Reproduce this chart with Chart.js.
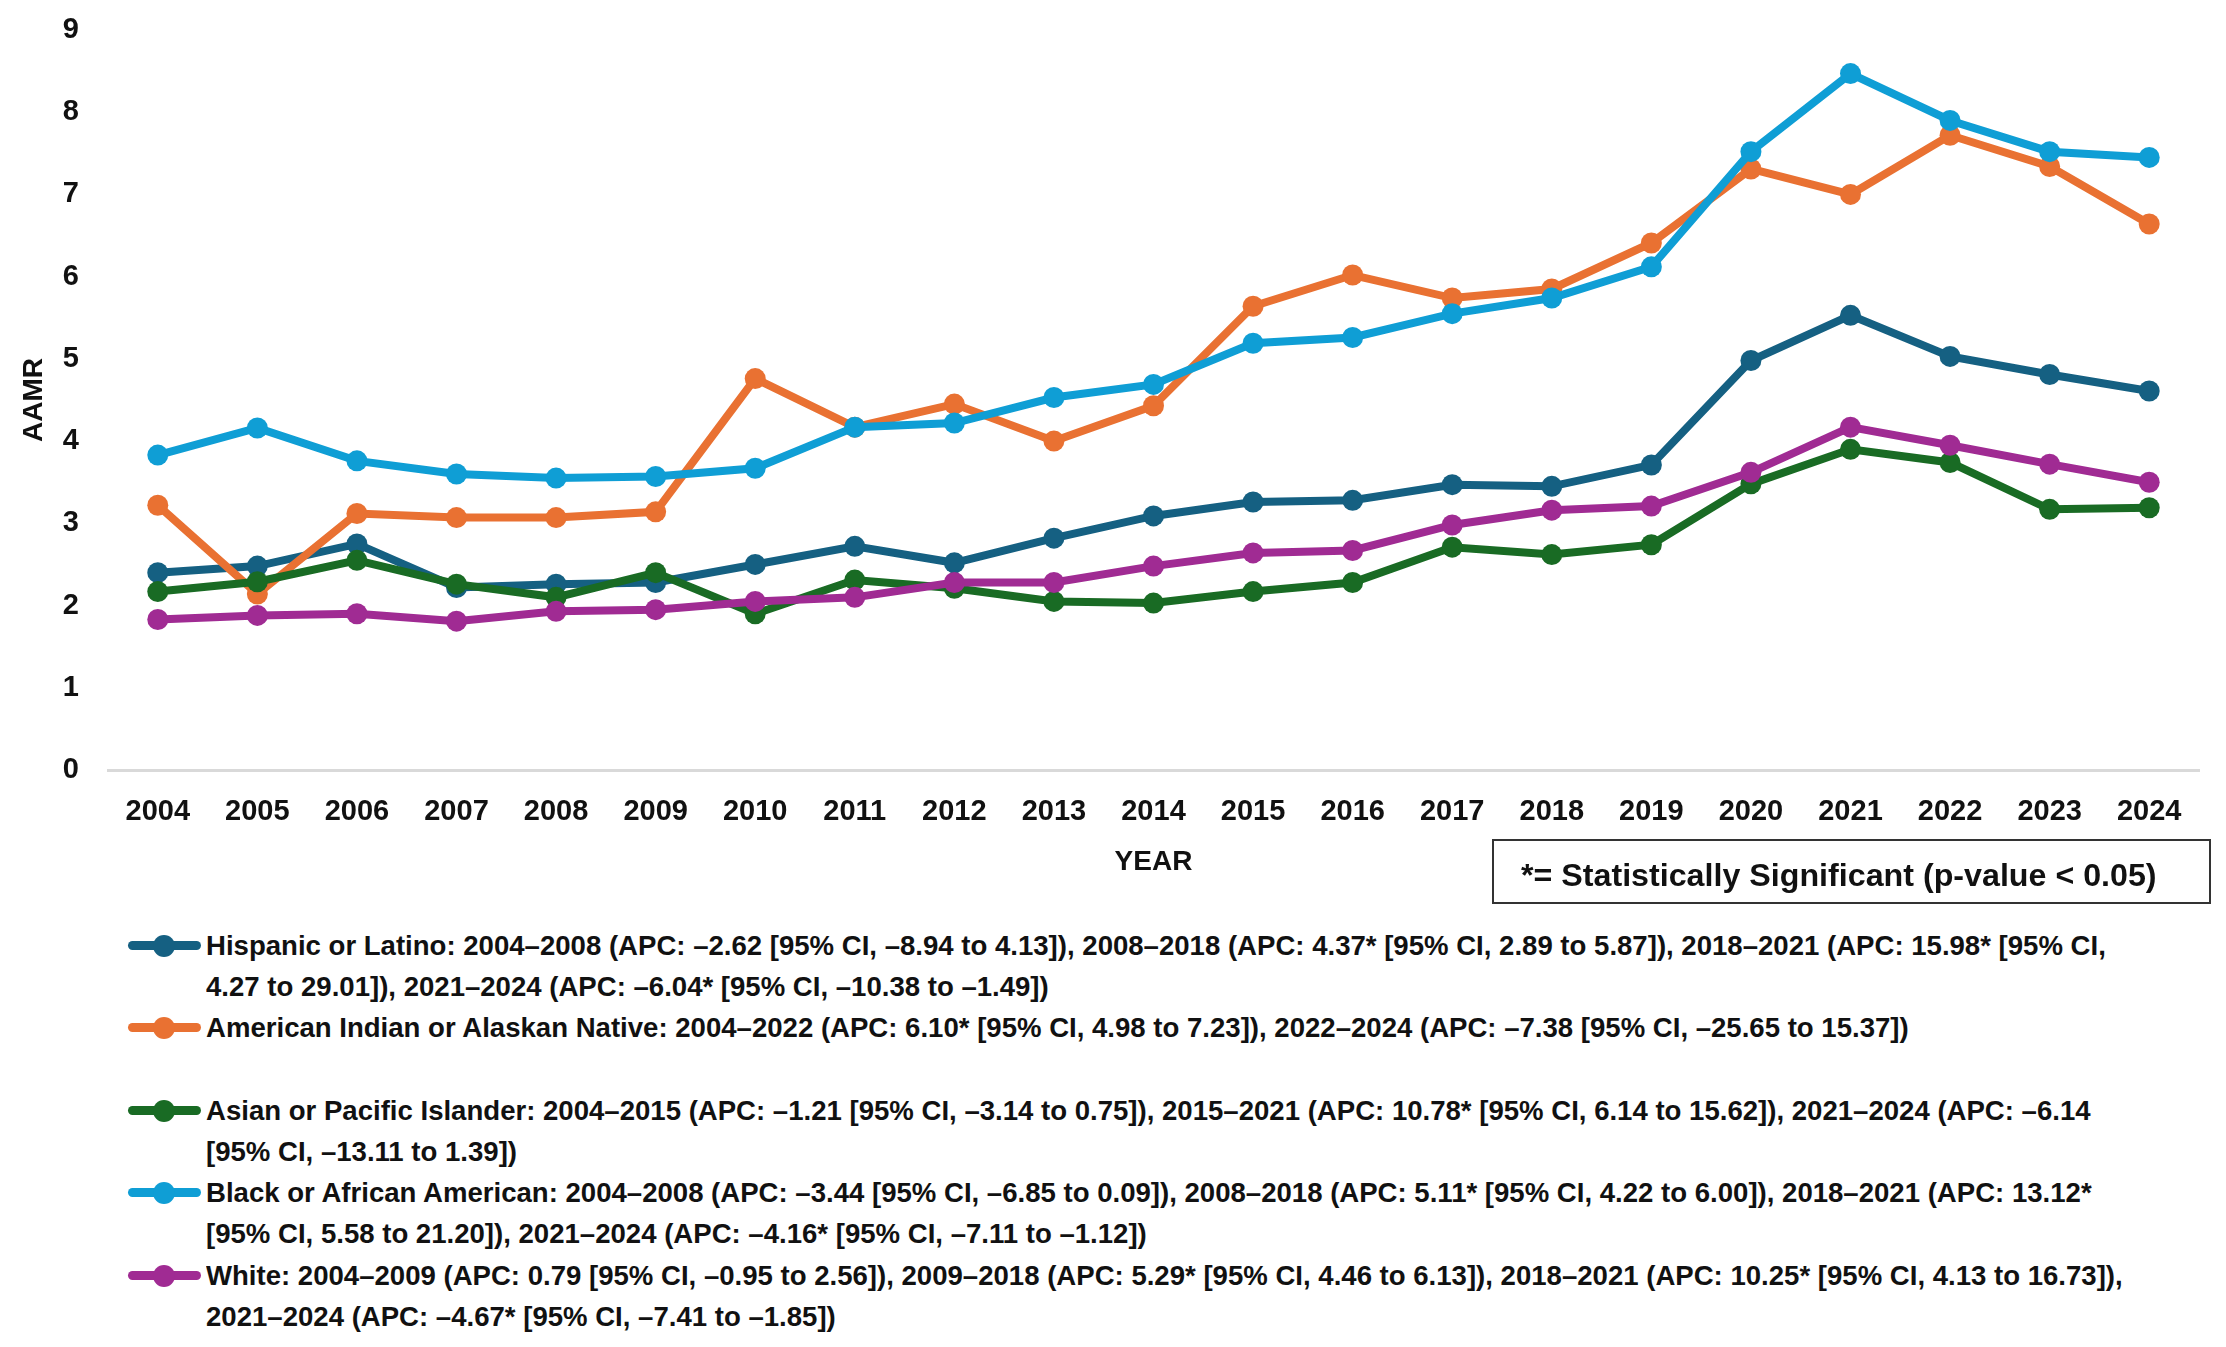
<!DOCTYPE html>
<html>
<head>
<meta charset="utf-8">
<script src="https://cdn.jsdelivr.net/npm/chart.js@4.4.1/dist/chart.umd.min.js"></script>
<style>
  html, body { margin: 0; padding: 0; background: #fff; }
  #wrap { position: relative; width: 2226px; height: 1347px; overflow: hidden; }
  #chartBox { position: absolute; left: 0; top: 0; width: 2226px; height: 890px; }
  .narrow { font-family: 'Liberation Sans', Arial, sans-serif; font-weight: bold; color: #111; }
  .squeeze { display: inline-block; transform-origin: 0 0; white-space: nowrap; }
  #sigBox {
    position: absolute; left: 1492px; top: 839px; width: 715px; height: 61px;
    border: 2px solid #333; box-sizing: content-box;
    font-size: 31px; line-height: 61px; white-space: nowrap;
  }
  #sigBox .squeeze { margin-left: 27px; margin-top: 4px; }
  #legend { position: absolute; left: 128px; top: 925px; font-size: 28px; line-height: 41.2px; }
  .item { position: relative; padding-left: 78px; white-space: nowrap; }
  .item.tall { min-height: 82.4px; }
  .mark { position: absolute; left: 0; top: 16px; width: 73px; height: 9px; border-radius: 5px; }
  .mark i { position: absolute; left: 25px; top: -6px; width: 22px; height: 22px; border-radius: 50%; }
</style>
</head>
<body>
<div id="wrap">
  <div id="chartBox"><canvas id="myChart" width="2226" height="890"></canvas></div>
  <div id="sigBox" class="narrow"><span class="squeeze" id="sigText">*= Statistically Significant (p-value &lt; 0.05)</span></div>
  <div id="legend" class="narrow"></div>
</div>
<script>
// Years on the x axis
const years = ['2004', '2005', '2006', '2007', '2008', '2009', '2010', '2011', '2012', '2013', '2014',
               '2015', '2016', '2017', '2018', '2019', '2020', '2021', '2022', '2023', '2024'];

// AAMR values
const hispanic = [2.40, 2.48, 2.75, 2.22, 2.26, 2.28, 2.50, 2.72, 2.52, 2.82, 3.09,
                  3.26, 3.28, 3.47, 3.45, 3.71, 4.98, 5.53, 5.03, 4.81, 4.61];
const aian = [3.22, 2.14, 3.12, 3.07, 3.07, 3.14, 4.76, 4.17, 4.45, 4.00, 4.43,
              5.64, 6.02, 5.74, 5.85, 6.41, 7.31, 7.00, 7.72, 7.34, 6.64];
const asian = [2.17, 2.29, 2.55, 2.26, 2.10, 2.40, 1.90, 2.31, 2.21, 2.05, 2.03,
               2.17, 2.28, 2.71, 2.62, 2.74, 3.48, 3.90, 3.74, 3.17, 3.19];
const black = [3.83, 4.16, 3.76, 3.60, 3.55, 3.57, 3.67, 4.17, 4.22, 4.53, 4.69,
               5.19, 5.26, 5.55, 5.74, 6.12, 7.52, 8.47, 7.90, 7.52, 7.45];
const white = [1.83, 1.88, 1.90, 1.81, 1.93, 1.95, 2.05, 2.10, 2.28, 2.28, 2.48,
               2.64, 2.67, 2.98, 3.16, 3.21, 3.62, 4.17, 3.95, 3.72, 3.50];

const yTicks = [0, 1, 2, 3, 4, 5, 6, 7, 8, 9];

// Legend text, one entry per line as in the original
const hispanicLabel = ['Hispanic or Latino: 2004–2008 (APC: –2.62 [95% CI, –8.94 to 4.13]), 2008–2018 (APC: 4.37* [95% CI, 2.89 to 5.87]), 2018–2021 (APC: 15.98* [95% CI,',
                       '4.27 to 29.01]), 2021–2024 (APC: –6.04* [95% CI, –10.38 to –1.49])'];
const aianLabel = ['American Indian or Alaskan Native: 2004–2022 (APC: 6.10* [95% CI, 4.98 to 7.23]), 2022–2024 (APC: –7.38 [95% CI, –25.65 to 15.37])'];
const asianLabel = ['Asian or Pacific Islander: 2004–2015 (APC: –1.21 [95% CI, –3.14 to 0.75]), 2015–2021 (APC: 10.78* [95% CI, 6.14 to 15.62]), 2021–2024 (APC: –6.14',
                    '[95% CI, –13.11 to 1.39])'];
const blackLabel = ['Black or African American: 2004–2008 (APC: –3.44 [95% CI, –6.85 to 0.09]), 2008–2018 (APC: 5.11* [95% CI, 4.22 to 6.00]), 2018–2021 (APC: 13.12*',
                    '[95% CI, 5.58 to 21.20]), 2021–2024 (APC: –4.16* [95% CI, –7.11 to –1.12])'];
const whiteLabel = ['White: 2004–2009 (APC: 0.79 [95% CI, –0.95 to 2.56]), 2009–2018 (APC: 5.29* [95% CI, 4.46 to 6.13]), 2018–2021 (APC: 10.25* [95% CI, 4.13 to 16.73]),',
                    '2021–2024 (APC: –4.67* [95% CI, –7.41 to –1.85])'];

function series(lines, values, color, order) {
    return {
        label: lines.join(' '),
        lines: lines,
        data: values,
        borderColor: color,
        backgroundColor: color,
        pointBackgroundColor: color,
        pointBorderColor: color,
        borderWidth: 8,
        pointRadius: 10.5,
        pointBorderWidth: 0,
        tension: 0,
        order: order
    };
}

// squeeze text horizontally so it looks like the narrow font of the original
function squeezeTo(el, width) {
    el.style.transform = 'none';
    const k = width / el.offsetWidth;
    el.style.transform = 'scaleX(' + k + ')';
    return k;
}

// builds the html legend from the datasets (wrapping text is not possible in the canvas legend)
const htmlLegend = {
    id: 'htmlLegend',
    afterUpdate(chart) {
        const box = document.getElementById('legend');
        box.innerHTML = '';
        const texts = [];
        chart.data.datasets.forEach(ds => {
            const item = document.createElement('div');
            item.className = 'item' + (ds.lines.length < 2 ? ' tall' : '');
            const mark = document.createElement('span');
            mark.className = 'mark';
            mark.style.background = ds.borderColor;
            const dot = document.createElement('i');
            dot.style.background = ds.borderColor;
            mark.appendChild(dot);
            item.appendChild(mark);
            const text = document.createElement('span');
            text.className = 'squeeze';
            ds.lines.forEach((t, i) => {
                if (i > 0) text.appendChild(document.createElement('br'));
                text.appendChild(document.createTextNode(t));
            });
            item.appendChild(text);
            box.appendChild(item);
            texts.push(text);
        });
        // first entry's first line is the widest one: 1900px in the original
        const k = squeezeTo(texts[0], 1900);
        texts.forEach(t => { t.style.transform = 'scaleX(' + k + ')'; });
    }
};

const tickFont = { family: "'Liberation Sans', Arial, sans-serif", size: 29, weight: 'bold' };
const titleFont = { family: "'Liberation Sans', Arial, sans-serif", size: 28, weight: 'bold' };

const ctx = document.getElementById('myChart').getContext('2d');
const chart = new Chart(ctx, {
    type: 'line',
    data: {
        labels: years,
        datasets: [
            series(hispanicLabel, hispanic, '#156082', 5),
            series(aianLabel, aian, '#E97132', 4),
            series(asianLabel, asian, '#196B24', 3),
            series(blackLabel, black, '#0F9ED5', 2),
            series(whiteLabel, white, '#A02B93', 1)
        ]
    },
    options: {
        responsive: false,
        animation: false,
        devicePixelRatio: 1,
        layout: { padding: { left: 10, right: 27, top: 30, bottom: 8 } },
        plugins: {
            legend: { display: false },
            tooltip: { enabled: false }
        },
        scales: {
            x: {
                offset: true,
                grid: { display: false, drawTicks: false },
                border: { display: true, color: '#d9d9d9', width: 3 },
                ticks: { font: tickFont, color: '#111', padding: 25, maxRotation: 0, autoSkip: false },
                title: { display: true, text: 'YEAR', font: titleFont, color: '#111', padding: { top: 0, bottom: 3 } },
                afterFit: axis => { axis.height = 112; }
            },
            y: {
                min: 0,
                max: 9,
                afterBuildTicks: axis => { axis.ticks = yTicks.map(v => ({ value: v })); },
                grid: { display: false, drawTicks: false },
                border: { display: false },
                ticks: { font: tickFont, color: '#111', padding: 29 },
                title: { display: true, text: 'AAMR', font: titleFont, color: '#111', padding: { top: 7, bottom: 0 } },
                afterFit: axis => {
                    axis.width = 98;
                    axis.paddingTop = 0;
                    axis.paddingBottom = 0;
                }
            }
        }
    },
    plugins: [htmlLegend]
});

squeezeTo(document.getElementById('sigText'), 636);
</script>
</body>
</html>
